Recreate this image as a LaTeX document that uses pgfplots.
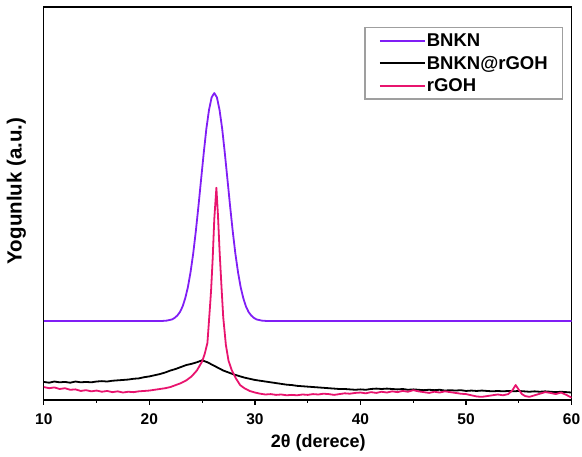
\documentclass[border=0pt]{standalone}
\usepackage{pgfplots}
\pgfplotsset{compat=1.18}
\usepackage{fontspec}
\setmainfont{Liberation Sans}

\definecolor{bnkn}{RGB}{128,30,245}
\definecolor{rgoh}{RGB}{232,20,110}

\begin{document}
\begin{tikzpicture}
\useasboundingbox (-43.8pt,-57pt) rectangle (538.2pt,400pt);
\begin{axis}[
  scale only axis,
  width=527.8pt, height=393pt,
  xmin=10, xmax=60, ymin=0, ymax=100,
  axis line style={line width=1.4pt, black},
  xtick={10,20,...,60},
  minor xtick={15,25,...,55},
  xtick pos=bottom,
  ytick=\empty,
  tick align=outside,
  major tick length=5pt,
  minor tick length=3pt,
  every tick/.style={line width=1.2pt, black},
  /pgf/number format/assume math mode=true,
  ticklabel style={font=\bfseries\fontsize{15.5}{15.5}\selectfont},
  xticklabel style={yshift=-5pt},
  xlabel={2θ (derece)},
  ylabel={Yogunluk (a.u.)},
  label style={font=\bfseries\fontsize{18}{18}\selectfont},
  xlabel style={at={(axis description cs:0.52,-0.11)}, anchor=center},
  ylabel style={at={(axis description cs:-0.052,0.532)}, anchor=center, font=\bfseries\fontsize{20.5}{20.5}\selectfont},
  legend style={
    at={(0.607,0.949)}, anchor=north west,
    draw=gray!75, line width=1.4pt,
    font=\bfseries\fontsize{18.5}{18.5}\selectfont,
    inner xsep=14pt, inner ysep=4pt,
    row sep=4pt,
    cells={anchor=west},
    nodes={inner xsep=1pt},
  },
  legend image code/.code={\draw[#1, line width=2pt] (0pt,0pt) -- (45pt,0pt);},
  every axis plot/.append style={line width=1.8pt, line join=round},
]

% BNKN
\addplot[bnkn] coordinates {
(10,20.1) (21.15,20.1) (21.65,20.2) (22.15,20.5) (22.4,20.9) (22.65,21.5)
(22.9,22.4) (23.15,23.8) (23.4,25.9) (23.65,28.7) (23.9,32.5) (24.15,37.2)
(24.4,42.9) (24.65,49.3) (24.9,56.1) (25.15,62.8) (25.4,69.0) (25.65,73.8)
(25.9,77.0) (26.15,78.1) (26.4,77.0) (26.65,73.8) (26.9,69.0) (27.15,62.8)
(27.4,56.1) (27.65,49.3) (27.9,42.9) (28.15,37.2) (28.4,32.5) (28.65,28.7)
(28.9,25.9) (29.15,23.8) (29.4,22.4) (29.65,21.5) (29.9,20.9) (30.15,20.5)
(30.65,20.2) (31.15,20.1) (60,20.1)
};
\addlegendentry{BNKN}

% BNKN@rGOH
\addplot[black] coordinates {
(10,4.6) (10.5,4.4) (11,4.7) (11.5,4.5) (12,4.6) (12.5,4.4) (13,4.7) (13.5,4.5)
(14,4.6) (14.5,4.5) (15,4.7) (15.5,4.8) (16,4.7) (16.5,4.9) (17,5.0) (17.5,5.1)
(18,5.2) (18.5,5.4) (19,5.5) (19.5,5.8) (20,6.0) (20.5,6.3) (21,6.6) (21.5,7.0)
(22,7.5) (22.5,7.9) (23,8.4) (23.5,8.9) (24,9.2) (24.5,9.6) (25,10.1) (25.5,9.6)
(26,8.9) (26.5,8.2) (27,7.5) (27.5,7.0) (28,6.5) (28.5,6.1) (29,5.7) (29.5,5.4)
(30,5.1) (30.5,4.9) (31,4.7) (31.5,4.5) (32,4.3) (32.5,4.1) (33,3.9) (33.5,3.8)
(34,3.6) (34.5,3.5) (35,3.4) (35.5,3.3) (36,3.2) (36.5,3.1) (37,3.0) (37.5,2.9)
(38,2.8) (38.5,2.8) (39,2.7) (39.5,2.6) (40,2.7) (40.5,2.6) (41,2.8) (41.5,2.9)
(42,2.8) (42.5,2.9) (43,2.8) (43.5,2.7) (44,2.8) (44.5,2.6) (45,2.7) (45.5,2.6)
(46,2.5) (46.5,2.6) (47,2.5) (47.5,2.6) (48,2.4) (48.5,2.5) (49,2.4) (49.5,2.5)
(50,2.3) (50.5,2.4) (51,2.3) (51.5,2.4) (52,2.3) (52.5,2.2) (53,2.3) (53.5,2.2)
(54,2.3) (54.5,2.2) (55,2.3) (55.5,2.2) (56,2.1) (56.5,2.2) (57,2.1) (57.5,2.2)
(58,2.1) (58.5,2.0) (59,2.1) (59.5,2.0) (60,1.9)
};
\addlegendentry{BNKN@rGOH}

% rGOH
\addplot[rgoh] coordinates {
(10,3.3) (10.5,3.0) (11,3.2) (11.5,2.8) (12,3.0) (12.5,2.6) (13,2.7) (13.5,2.3)
(14,2.5) (14.5,2.2) (15,2.4) (15.5,2.1) (16,2.3) (16.5,2.0) (17,2.2) (17.5,1.9)
(18,2.1) (18.5,2.0) (19,2.2) (19.5,2.3) (20,2.4) (20.5,2.6) (21,2.8) (21.5,3.0)
(22,3.3) (22.5,3.8) (23,4.3) (23.5,5.0) (24,6.0) (24.5,7.5) (25,9.8) (25.25,11.8)
(25.5,14.5) (25.75,24) (25.85,28) (26.0,36) (26.15,46) (26.35,54) (26.5,47)
(26.65,38) (26.85,28) (27.0,21) (27.25,14) (27.5,10) (27.8,7.6) (28.2,5.5)
(28.6,3.8) (29,3.0) (29.5,2.3) (30,1.9) (30.5,1.6) (31,1.4) (31.5,1.5) (32,1.3)
(32.5,1.4) (33,1.2) (33.5,1.3) (34,1.2) (34.5,1.4) (35,1.3) (35.5,1.5) (36,1.4)
(36.5,1.6) (37,1.5) (37.5,1.3) (38,1.5) (38.5,1.7) (39,1.6) (39.5,1.8) (40,1.9)
(40.5,1.7) (41,2.0) (41.5,1.8) (42,2.1) (42.5,1.9) (43,2.2) (43.5,2.0) (44,2.3)
(44.5,2.1) (45,2.5) (45.5,2.2) (46,2.0) (46.5,1.8) (47,2.1) (47.5,1.9) (48,2.2)
(48.5,2.0) (49,1.8) (49.5,1.6) (50,1.5) (50.5,1.2) (51,0.9) (51.5,0.8) (52,1.0)
(52.5,1.2) (53,1.4) (53.5,1.2) (54,1.5) (54.4,2.5) (54.7,3.8) (55,2.6) (55.3,1.5)
(55.6,1.0) (56,0.8) (56.5,1.2) (57,1.6) (57.5,2.0) (58,1.8) (58.5,1.5) (59,1.9)
(59.5,1.3) (60,0.6)
};
\addlegendentry{rGOH}

\end{axis}
\end{tikzpicture}
\end{document}
